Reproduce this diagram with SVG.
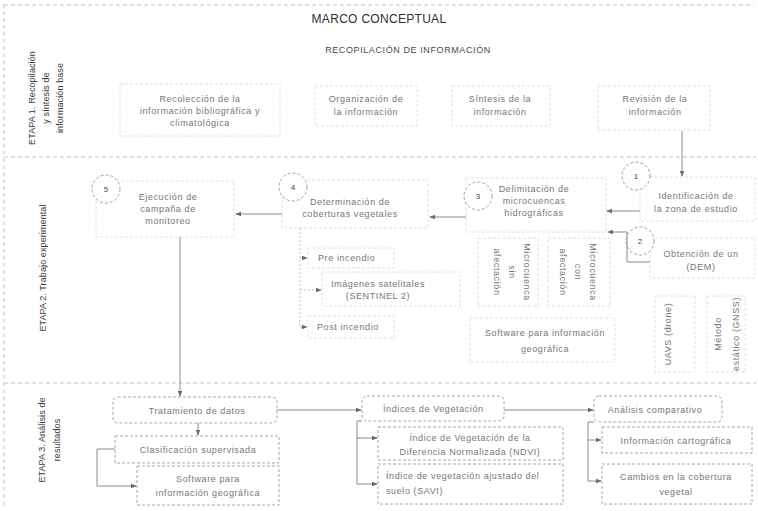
<svg xmlns="http://www.w3.org/2000/svg" width="758" height="511" viewBox="0 0 758 511">
<defs>
<style>
text{font-family:"Liberation Sans",Arial,sans-serif;fill:#767676;font-size:9px;letter-spacing:0.6px}
.t{text-anchor:middle}
.title{font-size:12px;fill:#2e2e2e;letter-spacing:0.3px}
.sub{font-size:9px;fill:#4a4a4a;letter-spacing:0.6px}
.et{font-size:9px;fill:#3a3a3a;letter-spacing:0.1px;text-anchor:middle}
.box{fill:#fff;stroke:#c8c8c8;stroke-width:1;stroke-dasharray:3 2}
.fbox{fill:#fff;stroke:#e0e0e0;stroke-width:1;stroke-dasharray:3 2}
.rbox{fill:#fff;stroke:#a8a8a8;stroke-width:1;stroke-dasharray:3 2}
.sep{stroke:#c4c4c4;stroke-width:1;stroke-dasharray:4 3;fill:none}
.circ{fill:#fff;stroke:#a0a0a0;stroke-width:1;stroke-dasharray:3 2}
.num{font-size:8px;fill:#444;text-anchor:middle;letter-spacing:0}
.c{fill:none;stroke:#8a8a8a;stroke-width:1}
.cf{fill:none;stroke:#c0c0c0;stroke-width:1;stroke-dasharray:2 2}
</style>
<marker id="ah" viewBox="0 0 8 8" refX="7" refY="4" markerWidth="6" markerHeight="6" orient="auto">
<path d="M0,1 L8,4 L0,7 z" fill="#6a6a6a"/>
</marker>
</defs>
<rect x="0" y="0" width="758" height="511" fill="#fff"/>

<g id="frame">
<line class="sep" x1="4" y1="4" x2="4" y2="508"/>
<line class="sep" x1="4" y1="5" x2="754" y2="5"/>
<line class="sep" x1="4" y1="157" x2="756" y2="157"/>
<line class="sep" x1="4" y1="383" x2="756" y2="383"/>
</g>

<g id="titles">
<text class="title t" x="379" y="23">MARCO CONCEPTUAL</text>
<text class="sub t" x="408" y="53">RECOPILACIÓN DE INFORMACIÓN</text>
</g>

<g id="etapa1">
<text class="et" transform="translate(35,98) rotate(-90)"><tspan x="0" y="0">ETAPA 1. Recopilación</tspan><tspan x="0" dy="14">y síntesis de</tspan><tspan x="0" dy="14">información base</tspan></text>
</g>
<g id="etapa2">
<text class="et" transform="translate(46,268) rotate(-90)">ETAPA 2. Trabajo experimental</text>
</g>
<g id="etapa3">
<text class="et" transform="translate(45,440) rotate(-90)"><tspan x="0" y="0">ETAPA 3. Análisis de</tspan><tspan x="0" dy="15">resultados</tspan></text>
</g>

<g id="recoleccion">
<rect class="fbox" x="120" y="84" width="160" height="52"/>
<text class="t"><tspan x="200" y="102">Recolección de la</tspan><tspan x="200" y="114">información bibliográfica y</tspan><tspan x="200" y="126">climatológica</tspan></text>
</g>
<g id="organizacion">
<rect class="fbox" x="315" y="86" width="102" height="40"/>
<text class="t"><tspan x="366" y="102">Organización de</tspan><tspan x="366" y="115">la información</tspan></text>
</g>
<g id="sintesis">
<rect class="fbox" x="452" y="86" width="98" height="40"/>
<text class="t"><tspan x="500" y="102">Síntesis de la</tspan><tspan x="500" y="115">información</tspan></text>
</g>
<g id="revision">
<rect class="fbox" x="598" y="86" width="112" height="44"/>
<text class="t"><tspan x="655" y="102">Revisión de la</tspan><tspan x="655" y="115">información</tspan></text>
</g>

<g id="ejecucion">
<rect class="fbox" x="96" y="181" width="138" height="56"/>
<text class="t"><tspan x="168" y="200">Ejecución de</tspan><tspan x="168" y="212">campaña de</tspan><tspan x="168" y="224">monitoreo</tspan></text>
<circle class="circ" cx="106" cy="189" r="14"/>
<text class="num" x="106" y="192">5</text>
</g>
<g id="determinacion">
<rect class="fbox" x="282" y="180" width="146" height="48"/>
<text class="t"><tspan x="350" y="205">Determinación de</tspan><tspan x="350" y="217">coberturas vegetales</tspan></text>
<circle class="circ" cx="293" cy="187" r="14"/>
<text class="num" x="293" y="190">4</text>
</g>
<g id="delimitacion">
<rect class="fbox" x="466" y="178" width="140" height="54"/>
<text class="t"><tspan x="534" y="192">Delimitación de</tspan><tspan x="534" y="204">microcuencas</tspan><tspan x="534" y="216">hidrográficas</tspan></text>
<circle class="circ" cx="478" cy="196" r="14"/>
<text class="num" x="478" y="199">3</text>
</g>
<g id="identificacion">
<rect class="fbox" x="640" y="177" width="115" height="44"/>
<text class="t"><tspan x="696" y="199">Identificación de</tspan><tspan x="696" y="212">la zona de estudio</tspan></text>
<circle class="circ" cx="636" cy="176" r="14"/>
<text class="num" x="636" y="179">1</text>
</g>
<g id="obtencion">
<rect class="fbox" x="650" y="238" width="105" height="40"/>
<text class="t"><tspan x="701" y="257">Obtención de un</tspan><tspan x="701" y="270">(DEM)</tspan></text>
<circle class="circ" cx="640" cy="241" r="14"/>
<text class="num" x="640" y="244">2</text>
</g>
<g id="pre-incendio">
<rect class="fbox" x="308" y="248" width="86" height="20"/>
<text x="318" y="261">Pre incendio</text>
</g>
<g id="imagenes">
<rect class="fbox" x="322" y="272" width="138" height="34"/>
<text class="t"><tspan x="378" y="287">Imágenes satelitales</tspan><tspan x="378" y="299">(SENTINEL 2)</tspan></text>
</g>
<g id="post-incendio">
<rect class="fbox" x="308" y="316" width="86" height="22"/>
<text x="317" y="330">Post incendio</text>
</g>
<g id="sin-afectacion">
<rect class="fbox" x="478" y="238" width="60" height="68"/>
<text class="t" transform="translate(524,272) rotate(90)"><tspan x="0" y="0">Microcuenca</tspan><tspan x="0" dy="15">sin</tspan><tspan x="0" dy="15">afectación</tspan></text>
</g>
<g id="con-afectacion">
<rect class="fbox" x="548" y="238" width="62" height="68"/>
<text class="t" transform="translate(590,272) rotate(90)"><tspan x="0" y="0">Microcuenca</tspan><tspan x="0" dy="15">con</tspan><tspan x="0" dy="15">afectación</tspan></text>
</g>
<g id="software1">
<rect class="fbox" x="470" y="318" width="145" height="44"/>
<text class="t"><tspan x="545" y="336">Software para información</tspan><tspan x="545" y="352">geográfica</tspan></text>
</g>
<g id="uavs">
<rect class="fbox" x="655" y="296" width="40" height="76"/>
<text class="t" transform="translate(671,334) rotate(-90)">UAVS (drone)</text>
</g>
<g id="metodo">
<rect class="fbox" x="707" y="296" width="38" height="76"/>
<text class="t" transform="translate(721,334) rotate(-90)"><tspan x="0" y="0">Método</tspan><tspan x="0" dy="18">estático (GNSS)</tspan></text>
</g>

<g id="tratamiento">
<rect class="rbox" x="113" y="397" width="164" height="26" rx="5"/>
<text class="t" x="197" y="414">Tratamiento de datos</text>
</g>
<g id="clasificacion">
<rect class="rbox" x="115" y="436" width="164" height="27"/>
<text class="t" x="198" y="453">Clasificación supervisada</text>
</g>
<g id="software2">
<rect class="rbox" x="137" y="466" width="142" height="39"/>
<text class="t"><tspan x="208" y="482">Software para</tspan><tspan x="208" y="496">información geográfica</tspan></text>
</g>
<g id="indices">
<rect class="rbox" x="362" y="396" width="142" height="25" rx="5"/>
<text x="383" y="412">Índices de Vegetación</text>
</g>
<g id="ndvi">
<rect class="rbox" x="378" y="427" width="185" height="33"/>
<text class="t"><tspan x="470" y="441">Índice de Vegetación de la</tspan><tspan x="470" y="455">Diferencia Normalizada (NDVI)</tspan></text>
</g>
<g id="savi">
<rect class="rbox" x="378" y="464" width="185" height="40"/>
<text><tspan x="386" y="479">Índice de vegetación ajustado del</tspan><tspan x="386" y="494">suelo (SAVI)</tspan></text>
</g>
<g id="analisis">
<rect class="rbox" x="594" y="396" width="128" height="26" rx="5"/>
<text class="t" x="655" y="413">Análisis comparativo</text>
</g>
<g id="cartografica">
<rect class="rbox" x="602" y="427" width="150" height="26"/>
<text class="t" x="676" y="444">Información cartográfica</text>
</g>
<g id="cambios">
<rect class="rbox" x="602" y="464" width="150" height="40"/>
<text class="t"><tspan x="676" y="480">Cambios en la cobertura</tspan><tspan x="676" y="495">vegetal</tspan></text>
</g>

<g id="connectors">
<line class="c" x1="682" y1="131" x2="682" y2="176" marker-end="url(#ah)"/>
<line class="c" x1="640" y1="211" x2="607" y2="211" marker-end="url(#ah)"/>
<polyline class="c" points="650,262 627,262 627,232 608,232" marker-end="url(#ah)"/>
<line class="c" x1="466" y1="217" x2="430" y2="217" marker-end="url(#ah)"/>
<line class="c" x1="282" y1="214" x2="236" y2="214" marker-end="url(#ah)"/>
<line class="c" x1="180" y1="237" x2="180" y2="396" marker-end="url(#ah)"/>
<polyline class="cf" points="300,228 300,327"/>
<line class="cf" x1="300" y1="258" x2="307" y2="258" marker-end="url(#ah)"/>
<line class="cf" x1="300" y1="290" x2="321" y2="290" marker-end="url(#ah)"/>
<line class="cf" x1="300" y1="327" x2="307" y2="327" marker-end="url(#ah)"/>
<line class="c" x1="277" y1="410" x2="361" y2="410" marker-end="url(#ah)"/>
<line class="c" x1="198" y1="423" x2="198" y2="435" marker-end="url(#ah)"/>
<polyline class="c" points="115,449 97,449 97,486 136,486" marker-end="url(#ah)"/>
<line class="c" x1="504" y1="410" x2="593" y2="410" marker-end="url(#ah)"/>
<polyline class="c" points="362,421 357,421 357,438 377,438" marker-end="url(#ah)"/>
<polyline class="c" points="357,438 357,484 377,484" marker-end="url(#ah)"/>
<polyline class="c" points="594,422 588,422 588,440 601,440" marker-end="url(#ah)"/>
<polyline class="c" points="588,440 588,481 601,481" marker-end="url(#ah)"/>
</g>
</svg>
